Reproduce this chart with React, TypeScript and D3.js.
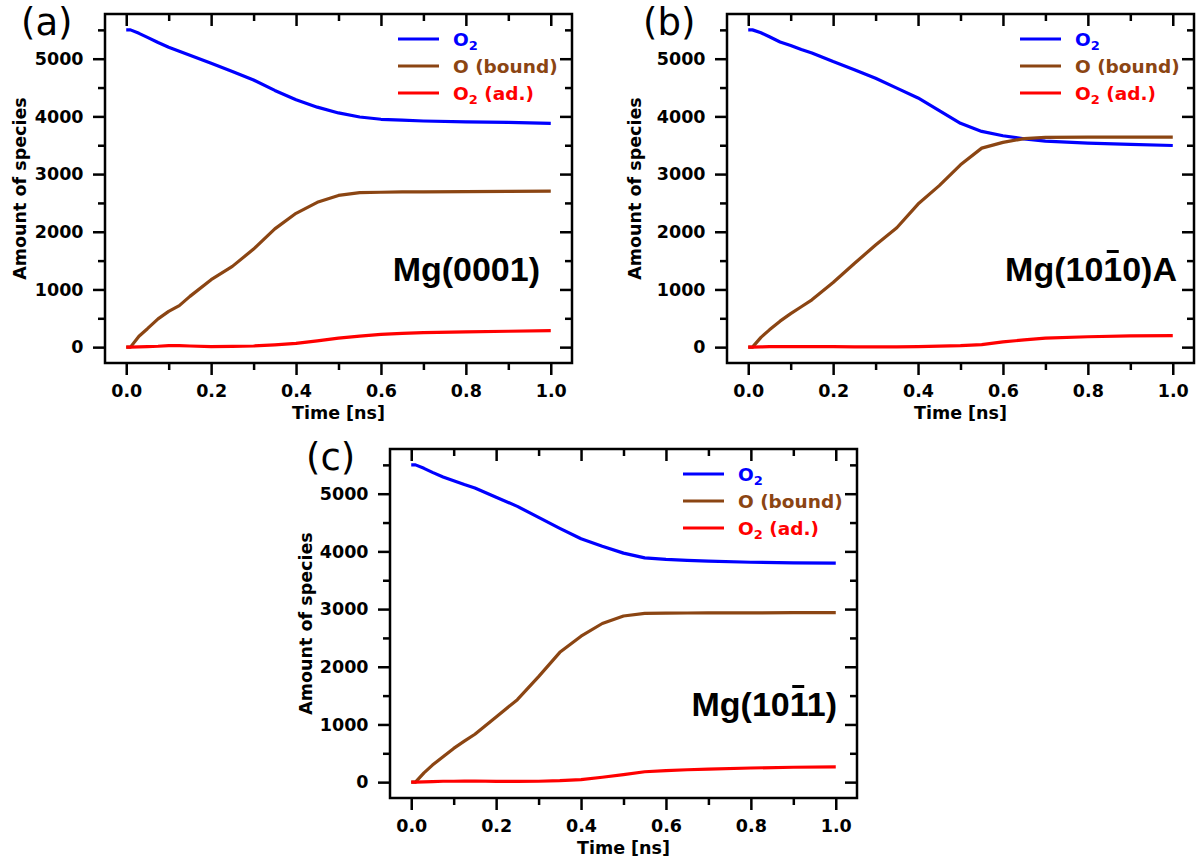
import React, { useEffect, useRef } from "react";
import * as d3 from "d3";

// Simulation time grid [ns]
const timeNs = [0, 0.01, 0.03, 0.05, 0.075, 0.1, 0.125, 0.15, 0.2, 0.25, 0.3, 0.35, 0.4, 0.45, 0.5, 0.55, 0.6, 0.65, 0.7, 0.8, 0.9, 1.0];

// Mg(0001)
const o2GasA = [5500, 5500, 5440, 5370, 5280, 5200, 5130, 5060, 4920, 4780, 4630, 4450, 4290, 4160, 4060, 3990, 3950, 3935, 3920, 3905, 3895, 3880];
const oBoundA = [0, 0, 190, 320, 490, 620, 720, 880, 1170, 1400, 1700, 2050, 2320, 2510, 2630, 2678, 2685, 2690, 2693, 2697, 2700, 2705];
const o2AdsA = [0, 0, 5, 10, 15, 25, 25, 20, 10, 12, 20, 40, 65, 110, 155, 190, 220, 240, 250, 265, 275, 285];

// Mg(10-10)A
const o2GasB = [5500, 5500, 5450, 5380, 5290, 5230, 5160, 5100, 4950, 4810, 4660, 4490, 4320, 4100, 3880, 3740, 3665, 3610, 3570, 3538, 3515, 3495];
const oBoundB = [0, 0, 170, 300, 450, 580, 700, 820, 1120, 1450, 1770, 2070, 2480, 2800, 3160, 3450, 3550, 3615, 3635, 3640, 3640, 3640];
const o2AdsB = [0, 0, 5, 8, 10, 10, 10, 8, 8, 6, 5, 6, 10, 18, 25, 45, 90, 125, 155, 180, 195, 200];

// Mg(10-11)
const o2GasC = [5500, 5500, 5440, 5370, 5290, 5225, 5160, 5100, 4940, 4780, 4590, 4400, 4220, 4090, 3970, 3887, 3860, 3845, 3830, 3812, 3800, 3795];
const oBoundC = [0, 0, 160, 296, 440, 585, 710, 830, 1130, 1430, 1830, 2250, 2530, 2750, 2880, 2925, 2930, 2932, 2933, 2935, 2937, 2940];
const o2AdsC = [0, 0, 5, 10, 15, 15, 18, 20, 12, 12, 15, 25, 45, 85, 130, 180, 200, 215, 225, 245, 258, 265];

const panelTags = ["(a)", "(b)", "(c)"];
const surfaceLabels = ["Mg(0001)", "Mg(1010)A", "Mg(1011)"];
const barredCharIndex = 5; // the digit carrying the Miller-Bravais overbar

// legend entries: base text, subscript, trailing text
const legendBase = ["O", "O (bound)", "O"];
const legendSub = ["2", "", "2"];
const legendTail = ["", "", " (ad.)"];
const seriesColors = ["#0000ff", "#8b4513", "#ff0000"];

const xMajorTicks = [0, 0.2, 0.4, 0.6, 0.8, 1.0];
const xMinorTicks = [0.1, 0.3, 0.5, 0.7, 0.9];
const yMajorTicks = [0, 1000, 2000, 3000, 4000, 5000];
const yMinorTicks = [500, 1500, 2500, 3500, 4500, 5500];

const xLabel = "Time [ns]";
const yLabel = "Amount of species";

const W = 467;
const H = 349;
const MAJOR = 12;
const MINOR = 7;
const FONT = "'DejaVu Sans', sans-serif";
const LABEL_SIZE = 17.5;
const LEGEND_SIZE = 18.5;

const panels = [
  { left: 105, top: 14, yLabelOffset: 79, annoRight: 435, series: [o2GasA, oBoundA, o2AdsA] },
  { left: 727, top: 14, yLabelOffset: 86, annoRight: 450, series: [o2GasB, oBoundB, o2AdsB] },
  { left: 390, top: 449, yLabelOffset: 78, annoRight: 447, series: [o2GasC, oBoundC, o2AdsC] },
];

function styleAxis(g: d3.Selection<SVGGElement, unknown, null, undefined>) {
  g.select(".domain").remove();
  g.selectAll(".tick line").attr("stroke", "#000").attr("stroke-width", 2.5);
  g.selectAll(".tick text")
    .attr("fill", "#000")
    .attr("font-family", FONT)
    .attr("font-weight", "bold")
    .attr("font-size", LABEL_SIZE);
  g.attr("font-family", null).attr("font-size", null);
}

export default function App() {
  const ref = useRef<SVGSVGElement>(null);

  useEffect(() => {
    const svg = d3.select(ref.current);
    svg.selectAll("*").remove();

    panels.forEach((p, pi) => {
      const right = p.left + W;
      const bottom = p.top + H;
      const x = d3.scaleLinear().domain([-0.05, 1.05]).range([p.left, right]);
      const y = d3.scaleLinear().domain([-275, 5775]).range([bottom, p.top]);
      const g = svg.append("g");

      // data curves
      const line = d3
        .line<number>()
        .x((_, i) => x(timeNs[i]))
        .y((v) => y(v));
      p.series.forEach((vals, si) => {
        g.append("path")
          .attr("d", line(vals))
          .attr("fill", "none")
          .attr("stroke", seriesColors[si])
          .attr("stroke-width", 3.2)
          .attr("stroke-linejoin", "round");
      });

      // axes: outward ticks on left/bottom, inward on top/right
      const axes: [any, string][] = [
        [d3.axisBottom(x).tickValues(xMajorTicks).tickSize(MAJOR).tickPadding(9.5).tickFormat(d3.format(".1f")), `translate(0,${bottom})`],
        [d3.axisBottom(x).tickValues(xMinorTicks).tickSize(MINOR).tickFormat(() => ""), `translate(0,${bottom})`],
        [d3.axisTop(x).tickValues(xMajorTicks).tickSize(-MAJOR).tickFormat(() => ""), `translate(0,${p.top})`],
        [d3.axisTop(x).tickValues(xMinorTicks).tickSize(-MINOR).tickFormat(() => ""), `translate(0,${p.top})`],
        [d3.axisLeft(y).tickValues(yMajorTicks).tickSize(MAJOR).tickPadding(9.5).tickFormat(d3.format("d")), `translate(${p.left},0)`],
        [d3.axisLeft(y).tickValues(yMinorTicks).tickSize(MINOR).tickFormat(() => ""), `translate(${p.left},0)`],
        [d3.axisRight(y).tickValues(yMajorTicks).tickSize(-MAJOR).tickFormat(() => ""), `translate(${right},0)`],
        [d3.axisRight(y).tickValues(yMinorTicks).tickSize(-MINOR).tickFormat(() => ""), `translate(${right},0)`],
      ];
      axes.forEach(([axis, tr]) => {
        const ag = g.append("g").attr("transform", tr).call(axis);
        styleAxis(ag as any);
      });

      // frame
      g.append("rect")
        .attr("x", p.left)
        .attr("y", p.top)
        .attr("width", W)
        .attr("height", H)
        .attr("fill", "none")
        .attr("stroke", "#000")
        .attr("stroke-width", 2.5);

      // axis titles
      g.append("text")
        .attr("x", (p.left + right) / 2)
        .attr("y", bottom + 56)
        .attr("text-anchor", "middle")
        .attr("font-family", FONT)
        .attr("font-weight", "bold")
        .attr("font-size", LABEL_SIZE)
        .text(xLabel);
      g.append("text")
        .attr("transform", `translate(${p.left - p.yLabelOffset},${(p.top + bottom) / 2}) rotate(-90)`)
        .attr("text-anchor", "middle")
        .attr("font-family", FONT)
        .attr("font-weight", "bold")
        .attr("font-size", LABEL_SIZE)
        .text(yLabel);

      // legend
      seriesColors.forEach((c, si) => {
        const ly = p.top + 25 + 27 * si;
        g.append("line")
          .attr("x1", p.left + 293)
          .attr("x2", p.left + 334)
          .attr("y1", ly)
          .attr("y2", ly)
          .attr("stroke", c)
          .attr("stroke-width", 3.2);
        const t = g
          .append("text")
          .attr("x", p.left + 348)
          .attr("y", ly + 6.5)
          .attr("fill", c)
          .attr("font-family", FONT)
          .attr("font-weight", "bold")
          .attr("font-size", LEGEND_SIZE);
        t.append("tspan").text(legendBase[si]);
        if (legendSub[si]) {
          t.append("tspan").attr("dy", 4).attr("font-size", 13).text(legendSub[si]);
          if (legendTail[si]) t.append("tspan").attr("dy", -4).text(legendTail[si]);
        }
      });

      // panel tag
      g.append("text")
        .attr("x", p.left - 84)
        .attr("y", p.top + 21)
        .attr("font-family", FONT)
        .attr("font-size", 37)
        .text(panelTags[pi]);

      // surface label
      const baseline = p.top + 267;
      const anno = g
        .append("text")
        .attr("x", p.left + p.annoRight)
        .attr("y", baseline)
        .attr("text-anchor", "end")
        .attr("font-family", "'Liberation Sans', Arial, sans-serif")
        .attr("font-weight", "bold")
        .attr("font-size", 34)
        .text(surfaceLabels[pi]);
      if (pi > 0) {
        const node = anno.node() as SVGTextElement;
        const ext = node.getExtentOfChar(barredCharIndex);
        const cx = ext.x + ext.width / 2;
        g.append("rect")
          .attr("x", cx - 6)
          .attr("y", baseline - 31)
          .attr("width", 12)
          .attr("height", 3)
          .attr("fill", "#000");
      }
    });
  }, []);

  return (
    <svg
      ref={ref}
      width={1202}
      height={864}
      style={{ position: "absolute", left: 0, top: 0, background: "#fff" }}
    />
  );
}
